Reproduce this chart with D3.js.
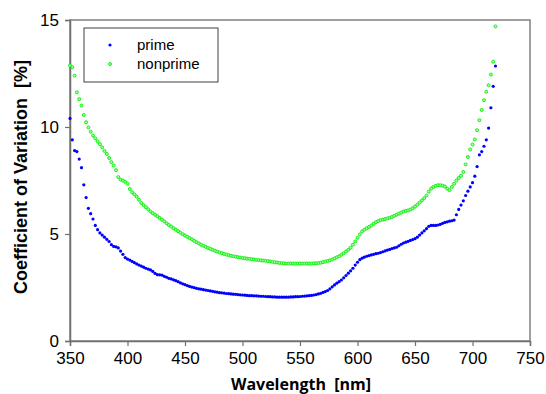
<!DOCTYPE html>
<html><head><meta charset="utf-8">
<script src="https://cdn.jsdelivr.net/npm/d3@7"></script>
<style>html,body{margin:0;padding:0;background:#fff;}svg{display:block;} text{white-space:pre;}</style>
</head><body>
<svg id="chart" width="546" height="394"></svg>
<script>
const wavelengths = [350,352,354,356,358,360,362,364,366,368,370,372,374,376,378,380,382,384,386,388,390,392,394,396,398,400,402,404,406,408,410,412,414,416,418,420,422,424,426,428,430,432,434,436,438,440,442,444,446,448,450,452,454,456,458,460,462,464,466,468,470,472,474,476,478,480,482,484,486,488,490,492,494,496,498,500,502,504,506,508,510,512,514,516,518,520,522,524,526,528,530,532,534,536,538,540,542,544,546,548,550,552,554,556,558,560,562,564,566,568,570,572,574,576,578,580,582,584,586,588,590,592,594,596,598,600,602,604,606,608,610,612,614,616,618,620,622,624,626,628,630,632,634,636,638,640,642,644,646,648,650,652,654,656,658,660,662,664,666,668,670,672,674,676,678,680,682,684,686,688,690,692,694,696,698,700,702,704,706,708,710,712,714,716,718,720];
const prime = [10.4,9.4,8.9,8.85,8.5,8.1,7.3,6.7,6.2,5.95,5.7,5.4,5.2,5.05,4.95,4.85,4.75,4.65,4.5,4.42,4.4,4.35,4.2,4.05,3.9,3.83,3.78,3.72,3.66,3.6,3.55,3.5,3.45,3.4,3.36,3.32,3.25,3.16,3.1,3.09,3.08,3.02,2.98,2.93,2.9,2.86,2.82,2.77,2.72,2.67,2.63,2.59,2.55,2.52,2.49,2.46,2.44,2.42,2.4,2.38,2.36,2.34,2.32,2.3,2.28,2.26,2.25,2.24,2.22,2.21,2.2,2.19,2.18,2.17,2.16,2.15,2.14,2.13,2.12,2.12,2.11,2.11,2.1,2.09,2.09,2.08,2.07,2.07,2.06,2.06,2.05,2.05,2.05,2.05,2.05,2.05,2.06,2.06,2.07,2.07,2.08,2.09,2.1,2.11,2.12,2.13,2.15,2.17,2.2,2.23,2.27,2.31,2.36,2.44,2.53,2.62,2.7,2.77,2.85,2.95,3.06,3.17,3.28,3.4,3.55,3.68,3.8,3.87,3.92,3.96,3.99,4.02,4.05,4.08,4.1,4.13,4.17,4.21,4.25,4.28,4.32,4.35,4.38,4.45,4.52,4.58,4.62,4.66,4.7,4.74,4.78,4.85,4.95,5.05,5.15,5.25,5.36,5.4,5.4,5.4,5.42,5.45,5.5,5.54,5.57,5.6,5.62,5.65,5.9,6.15,6.35,6.55,6.8,7.0,7.2,7.4,7.7,8.15,8.7,8.85,9.1,9.4,9.95,10.9,11.9,12.85];
const nonprime = [12.87,12.8,12.4,11.62,11.3,11.0,10.56,10.22,9.98,9.78,9.6,9.47,9.33,9.2,9.05,8.88,8.74,8.55,8.36,8.2,7.98,7.66,7.54,7.5,7.44,7.35,7.1,6.95,6.85,6.74,6.6,6.45,6.35,6.25,6.15,6.05,5.97,5.9,5.83,5.75,5.67,5.59,5.5,5.42,5.35,5.27,5.2,5.13,5.06,4.99,4.93,4.87,4.81,4.75,4.68,4.62,4.56,4.5,4.45,4.4,4.35,4.31,4.26,4.22,4.18,4.14,4.1,4.07,4.04,4.01,3.98,3.96,3.94,3.92,3.9,3.88,3.87,3.85,3.84,3.82,3.81,3.79,3.78,3.77,3.76,3.75,3.73,3.72,3.7,3.68,3.67,3.65,3.64,3.63,3.62,3.62,3.62,3.62,3.62,3.62,3.62,3.62,3.62,3.62,3.62,3.62,3.63,3.63,3.64,3.66,3.68,3.71,3.74,3.77,3.81,3.86,3.91,3.96,4.03,4.1,4.18,4.26,4.36,4.5,4.65,4.82,4.98,5.12,5.2,5.27,5.33,5.4,5.48,5.55,5.6,5.65,5.67,5.7,5.73,5.76,5.8,5.85,5.9,5.95,6.0,6.05,6.08,6.1,6.14,6.2,6.28,6.37,6.47,6.57,6.67,6.8,6.98,7.12,7.2,7.25,7.28,7.28,7.26,7.22,7.12,7.05,7.2,7.35,7.5,7.62,7.72,7.9,8.25,8.6,8.95,9.18,9.42,9.85,10.32,10.8,11.25,11.65,11.95,12.45,13.05,14.7];
const xTicks = [350,400,450,500,550,600,650,700,750];
const yTicks = [0,5,10,15];
const seriesNames = ["prime","nonprime"];

const svg = d3.select("#chart");
const m = {left:70, right:530, top:20, bottom:341};
const x = d3.scaleLinear().domain([350,750]).range([m.left, m.right]);
const y = d3.scaleLinear().domain([0,15]).range([m.bottom, m.top]);

svg.append("rect").attr("x", m.left).attr("y", m.top)
  .attr("width", m.right - m.left).attr("height", m.bottom - m.top)
  .attr("fill","none").attr("stroke","#808080").attr("stroke-width",1.5);

const fontNum = "Arial, 'Liberation Sans', Helvetica, sans-serif";

const xAxis = svg.append("g").attr("transform", `translate(0,${m.bottom})`)
  .call(d3.axisBottom(x).tickValues(xTicks).tickSize(5).tickPadding(6).tickFormat(d3.format("d")));
const yAxis = svg.append("g").attr("transform", `translate(${m.left},0)`)
  .call(d3.axisLeft(y).tickValues(yTicks).tickSize(5).tickPadding(6).tickFormat(d3.format("d")));
[xAxis, yAxis].forEach(g => {
  g.attr("font-family", null).attr("font-size", null);
  g.select(".domain").attr("stroke","#707070").attr("stroke-width",1.5);
  g.selectAll(".tick line").attr("stroke","#707070").attr("stroke-width",1.2);
  g.selectAll(".tick text").attr("fill","#000").attr("font-family", fontNum).attr("font-size", 17);
});

svg.append("g").selectAll("circle").data(wavelengths).join("circle")
  .attr("cx", (d,i) => x(d)).attr("cy", (d,i) => y(nonprime[i])).attr("r", 1.5)
  .attr("fill", "#a8ffa8").attr("stroke", "#00ee00").attr("stroke-width", 0.9);
svg.append("g").selectAll("circle").data(wavelengths).join("circle")
  .attr("cx", (d,i) => x(d)).attr("cy", (d,i) => y(prime[i])).attr("r", 1.6)
  .attr("fill", "#0000ff");

const leg = svg.append("g");
leg.append("rect").attr("x",84).attr("y",28).attr("width",134).attr("height",54)
  .attr("fill","#fff").attr("stroke","#404040").attr("stroke-width",1);
leg.append("circle").attr("cx",110).attr("cy",45).attr("r",1.6).attr("fill","#0000ff");
leg.append("circle").attr("cx",110).attr("cy",64).attr("r",1.5).attr("fill","#a8ffa8").attr("stroke","#00ee00").attr("stroke-width",0.9);
leg.append("text").attr("x",137).attr("y",50).text(seriesNames[0])
  .attr("font-family", fontNum).attr("font-size", 15);
leg.append("text").attr("x",137).attr("y",69).text(seriesNames[1])
  .attr("font-family", fontNum).attr("font-size", 15);

svg.append("text").attr("transform","translate(27,177) rotate(-90)")
  .attr("text-anchor","middle").text("Coefficient of Variation  [%]")
  .attr("font-family", fontNum).attr("font-weight","bold").attr("font-size", 18);
svg.append("text").attr("x",301).attr("y",389.5).attr("text-anchor","middle")
  .text("Wavelength  [nm]")
  .attr("font-family", "'Open Sans', 'Liberation Sans', sans-serif").attr("font-weight","bold").attr("font-size", 16);
</script>
</body></html>
